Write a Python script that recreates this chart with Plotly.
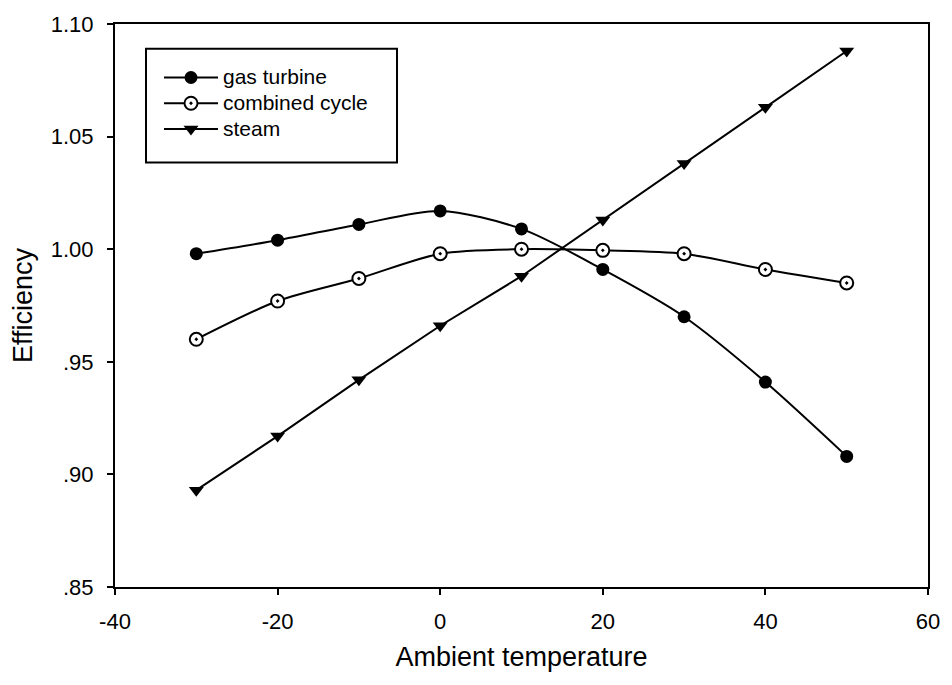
import plotly.graph_objects as go

# Ambient temperature (deg C) and relative efficiency for each plant type
temperature = [-30, -20, -10, 0, 10, 20, 30, 40, 50]
gas_turbine = [0.998, 1.004, 1.011, 1.017, 1.009, 0.991, 0.970, 0.941, 0.908]
combined_cycle = [0.960, 0.977, 0.987, 0.998, 1.000, 0.9995, 0.998, 0.991, 0.985]
steam = [0.893, 0.917, 0.942, 0.966, 0.988, 1.013, 1.038, 1.063, 1.088]
series_names = ["gas turbine", "combined cycle", "steam"]

x_ticks = [-40, -20, 0, 20, 40, 60]
x_tick_labels = ["-40", "-20", "0", "20", "40", "60"]
y_ticks = [0.85, 0.90, 0.95, 1.00, 1.05, 1.10]
y_tick_labels = [".85", ".90", ".95", "1.00", "1.05", "1.10"]

FONT = "Liberation Sans, Arial, sans-serif"

# plot area in pixels (figure 952 x 685)
W, H = 952, 685
L, R, T, B = 115, 24, 18, 98
PW, PH = W - L - R, H - T - B


def px_x(p):
    return (p - L) / PW


def px_y(p):
    return (H - B - p) / PH


def legend_label(text):
    # larger glyphs than the legend's base size, keeping rows tight
    return f'<span style="font-size:21px">{text}</span>'


fig = go.Figure()
fig.add_trace(go.Scatter(
    x=temperature, y=gas_turbine, name=legend_label(series_names[0]),
    mode="lines+markers", line=dict(color="black", width=2, shape="spline", smoothing=0.8),
    marker=dict(symbol="circle", size=13, color="black"),
))
fig.add_trace(go.Scatter(
    x=temperature, y=combined_cycle, name=legend_label(series_names[1]),
    mode="lines+markers", line=dict(color="black", width=2, shape="spline", smoothing=0.8),
    marker=dict(symbol="circle-dot", size=13, color="white", line=dict(color="black", width=2)),
))
fig.add_trace(go.Scatter(
    x=temperature, y=steam, name=legend_label(series_names[2]),
    mode="lines+markers", line=dict(color="black", width=2),
    marker=dict(symbol="triangle-down", size=13, color="black"),
))

# legend frame
fig.add_shape(
    type="rect", xref="paper", yref="paper",
    x0=px_x(146), x1=px_x(397), y0=px_y(158), y1=px_y(43),
    line=dict(color="black", width=2), fillcolor="rgba(0,0,0,0)", layer="above",
)

fig.update_layout(
    width=W, height=H,
    margin=dict(l=L, r=R, t=T, b=B),
    paper_bgcolor="white", plot_bgcolor="white",
    font=dict(family=FONT, size=21, color="black"),
    showlegend=True,
    legend=dict(
        x=px_x(159), y=px_y(54), xanchor="left", yanchor="top",
        borderwidth=0, bgcolor="rgba(0,0,0,0)",
        font=dict(family=FONT, size=17.5), itemwidth=54,
        tracegroupgap=0,
    ),
    xaxis=dict(
        range=[-40, 60], tickvals=x_ticks, ticktext=x_tick_labels,
        ticks="outside", ticklen=6, ticklabelstandoff=8,
        tickwidth=1.5, tickcolor="black", showgrid=False, zeroline=False,
        showline=True, linecolor="black", linewidth=2, mirror=True,
        tickfont=dict(size=22),
        title=dict(text="Ambient temperature", font=dict(size=27), standoff=14),
    ),
    yaxis=dict(
        range=[0.85, 1.10], tickvals=y_ticks, ticktext=y_tick_labels,
        ticks="outside", ticklen=6, ticklabelstandoff=9, tickwidth=1.5, tickcolor="black",
        showgrid=False, zeroline=False,
        showline=True, linecolor="black", linewidth=2, mirror=True,
        tickfont=dict(size=22),
        title=dict(text="Efficiency", font=dict(size=27), standoff=10),
    ),
)

fig.write_html("out.html")
